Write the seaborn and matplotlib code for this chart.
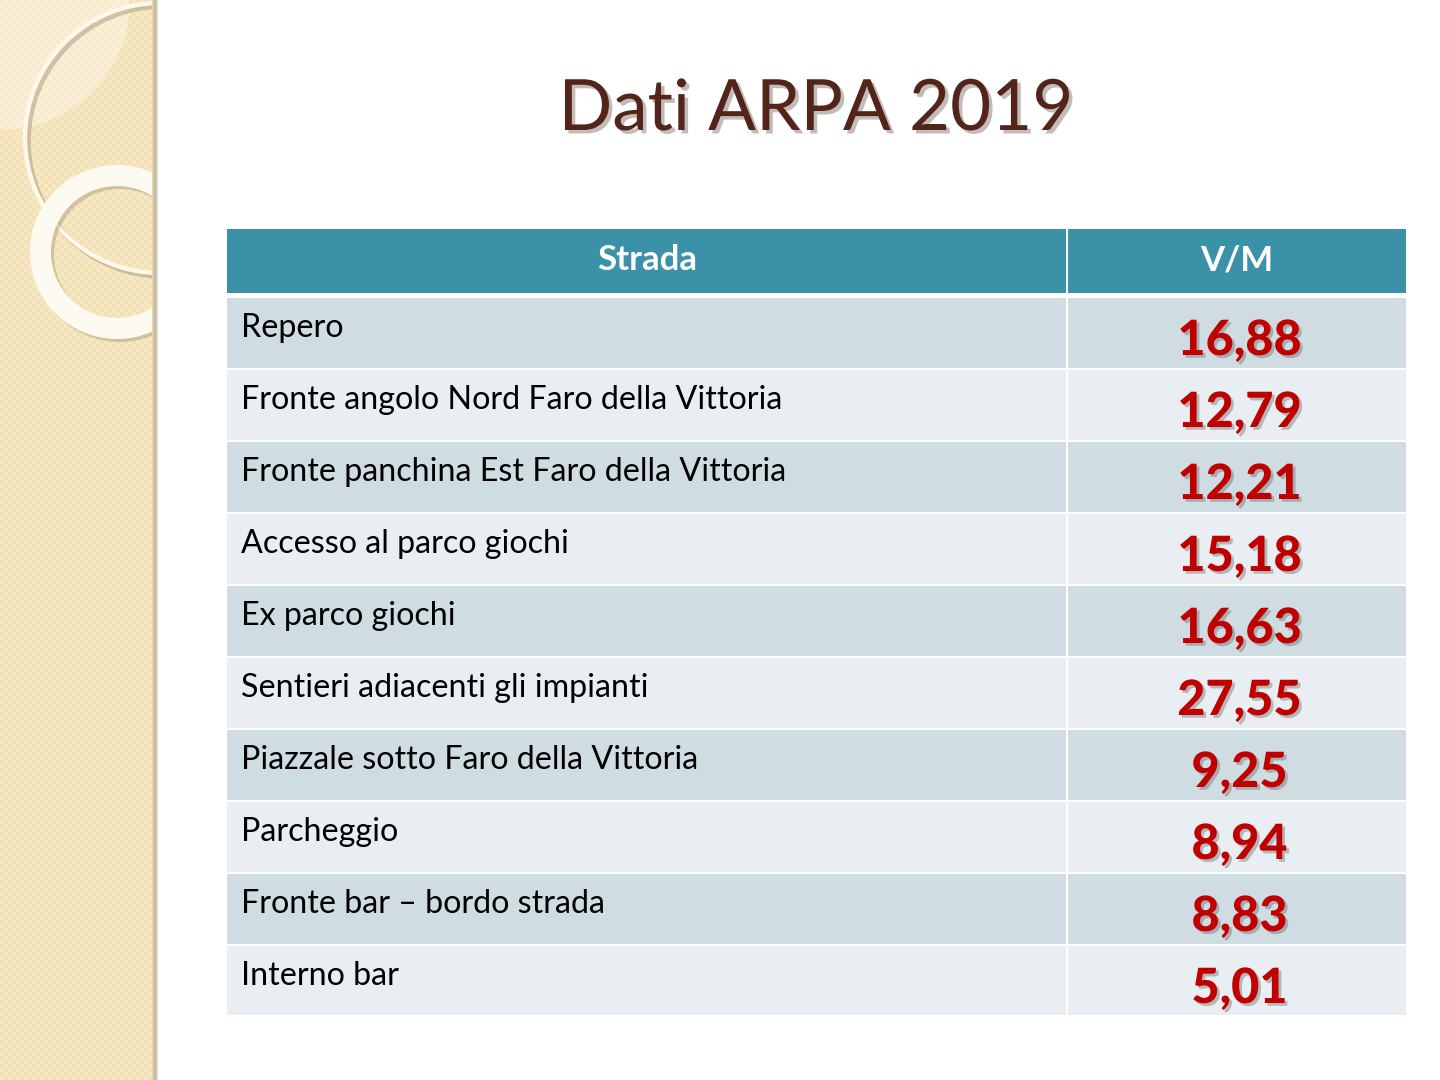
import numpy as np
import matplotlib
matplotlib.use("Agg")
import matplotlib.pyplot as plt
import matplotlib.patches as mpatches
import matplotlib.patheffects as pe
import seaborn as sns

# ---- data ----
title = "Dati ARPA 2019"
header_labels = ["Strada", "V/M"]
strade = [
    "Repero",
    "Fronte angolo Nord Faro della Vittoria",
    "Fronte panchina Est Faro della Vittoria",
    "Accesso al parco giochi",
    "Ex parco giochi",
    "Sentieri adiacenti gli impianti",
    "Piazzale sotto Faro della Vittoria",
    "Parcheggio",
    "Fronte bar \u2013 bordo strada",
    "Interno bar",
]
valori = [16.88, 12.79, 12.21, 15.18, 16.63, 27.55, 9.25, 8.94, 8.83, 5.01]

sns.set_theme(style="white")
plt.rcParams['font.family'] = ['Lato', 'DejaVu Sans']

W, H = 1440, 1080
fig = plt.figure(figsize=(W / 100, H / 100), dpi=100)
fig.patch.set_facecolor("white")

# ---- background / decoration axes (pixel coordinates) ----
bg = fig.add_axes([0, 0, 1, 1])
bg.set_xlim(0, W)
bg.set_ylim(H, 0)
bg.axis("off")

side_w = 158
# checker texture
yy, xx = np.mgrid[0:H, 0:side_w]
chk = ((xx // 4) + (yy // 4)) % 2
base = np.array([243, 224, 182]) / 255.0
alt = np.array([247, 232, 196]) / 255.0
img = np.where(chk[..., None] == 1, alt, base)
bg.imshow(img, extent=(0, side_w, H, 0), interpolation="nearest", zorder=1, aspect="auto")
bg.set_xlim(0, W)
bg.set_ylim(H, 0)

# lighter quarter disc top-left
bg.add_patch(mpatches.Wedge((0, 0), 130, 0, 90, facecolor="white", alpha=0.35,
                            edgecolor="none", zorder=2))

clip = mpatches.Rectangle((0, 0), side_w - 4, H, transform=bg.transData)

# thin ring
for off, col, lw, al in [((3, 3), "#a8977a", 4, 0.5), ((0, 0), "#fdf8ea", 3.2, 1.0)]:
    c = mpatches.Circle((160 + off[0], 138 + off[1]), 135, fill=False,
                        edgecolor=col, linewidth=lw, alpha=al, zorder=3)
    bg.add_patch(c)
    c.set_clip_path(clip)

# thick ring
for off, col, al in [((3, 3), "#a8977a", 0.45), ((0, 0), "#fdfaf2", 1.0)]:
    w = mpatches.Wedge((117 + off[0], 252 + off[1]), 87, 0, 360, width=21,
                       facecolor=col, edgecolor="none", alpha=al, zorder=4)
    bg.add_patch(w)
    w.set_clip_path(clip)

# sidebar right edge shading
edge_cols = ["#e6d3aa", "#d8c7a2", "#cbbd9f", "#c4b9a6", "#cfc8bb", "#e2ded8"]
for k, col in enumerate(edge_cols):
    bg.add_patch(mpatches.Rectangle((side_w - 6 + k, 0), 1, H, facecolor=col,
                                    edgecolor="none", zorder=5))

# title
bg.text(816, 130, title, ha="center", va="baseline", fontsize=51, color="#53241a",
        zorder=6,
        path_effects=[pe.withSimplePatchShadow(offset=(2.5, -2.5), shadow_rgbFace="#7a6a60",
                                               alpha=0.45)])

# ---- table axes ----
left_px, right_px, top_px, bot_px = 227, 1406, 229, 1015
ax = fig.add_axes([left_px / W, 1 - bot_px / H, (right_px - left_px) / W, (bot_px - top_px) / H])
ax.axis("off")
tw = right_px - left_px
split = 1067 - left_px
row_h = 72.0
hdr_top = (top_px - 297) / row_h       # -0.944
hdr_bot = (293 - 297) / row_h          # -0.056
n = len(strade)
ax.set_xlim(0, tw)
ax.set_ylim((bot_px - 297) / row_h, hdr_top)

header_col = "#3a91a8"
dark, light = "#cfdce2", "#e8eef2"
row_colors = [dark if i % 2 == 0 else light for i in range(n)]
centers = np.arange(n) + 0.5
gap = 2 / row_h

# header bars
ax.barh([(hdr_top + hdr_bot) / 2] * 2, [split - 1, tw - split - 1], left=[0, split + 1],
        height=hdr_bot - hdr_top, color=header_col, edgecolor="none")
# row bars
ax.barh(centers, [split - 1] * n, left=0, height=1 - gap, color=row_colors, edgecolor="none")
ax.barh(centers, [tw - split - 1] * n, left=split + 1, height=1 - gap, color=row_colors,
        edgecolor="none")

# header text
hdr_base = (270 - 297) / row_h
ax.text(split / 2, hdr_base, header_labels[0], ha="center", va="baseline", fontsize=25,
        fontweight="bold", color="white")
ax.text((split + tw) / 2, hdr_base, header_labels[1], ha="center", va="baseline", fontsize=25,
        fontweight="bold", color="white")

val_shadow = [pe.withSimplePatchShadow(offset=(2, -2), shadow_rgbFace="#666666", alpha=0.4)]
for i, (s, v) in enumerate(zip(strade, valori)):
    ax.text(14, i + 40 / row_h, s, ha="left", va="baseline", fontsize=23.2, color="black")
    ax.text((split + tw) / 2 + 3, i + 58 / row_h, f"{v:.2f}".replace(".", ","), ha="center",
            va="baseline", fontsize=35, fontweight="black", color="#c00000",
            path_effects=val_shadow)

fig.savefig("out.png", dpi=100, facecolor="white")
